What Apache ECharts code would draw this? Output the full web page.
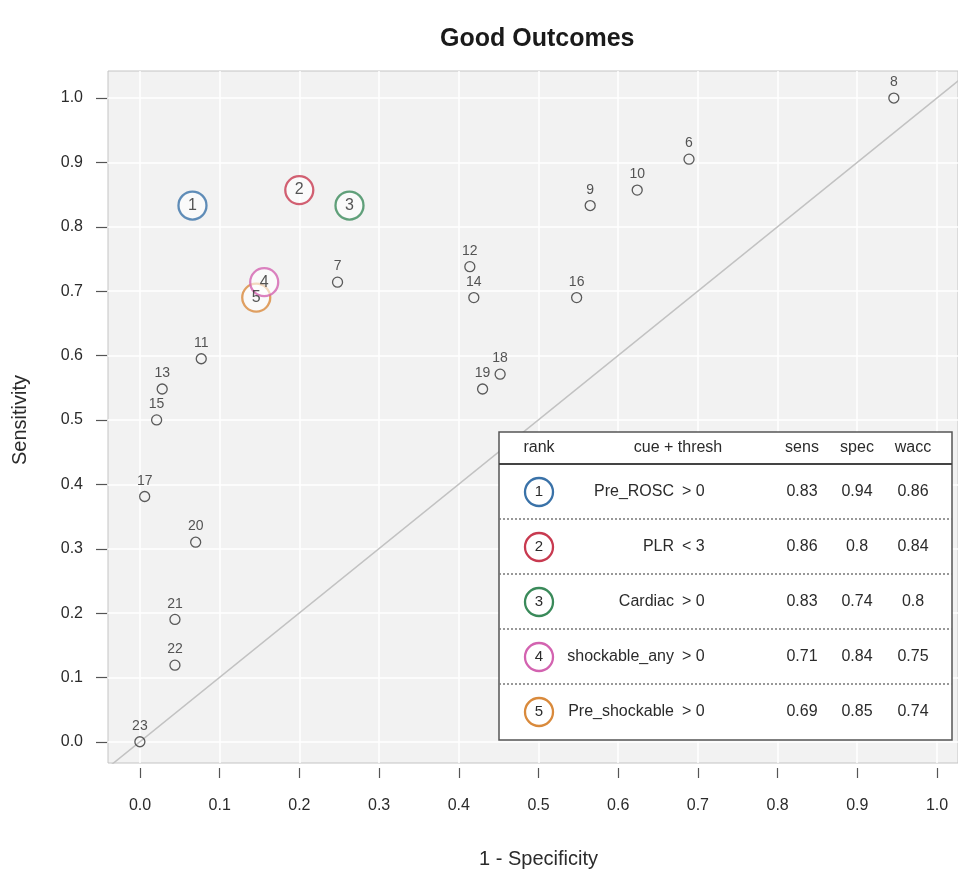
<!DOCTYPE html>
<html>
<head>
<meta charset="utf-8">
<script src="https://cdn.jsdelivr.net/npm/echarts@6/dist/echarts.min.js"></script>
<style>html,body{margin:0;padding:0;background:#fff;}#c{width:958px;height:869px;}</style>
</head>
<body>
<div id="c"></div>
<script>
// ---- data ----
var titleText = 'Good Outcomes';
var xName = '1 - Specificity';
var yName = 'Sensitivity';
var tickValues = [0, 0.1, 0.2, 0.3, 0.4, 0.5, 0.6, 0.7, 0.8, 0.9, 1.0];
var diagonal = [-0.1, 1.1];

var ptLabel = [6, 7, 8, 9, 10, 11, 12, 13, 14, 15, 16, 17, 18, 19, 20, 21, 22, 23];
var ptX = [0.689, 0.248, 0.946, 0.565, 0.624, 0.077, 0.414, 0.028, 0.419, 0.021, 0.548, 0.006, 0.452, 0.430, 0.070, 0.044, 0.044, 0.000];
var ptY = [0.905, 0.714, 1.000, 0.833, 0.857, 0.595, 0.738, 0.548, 0.690, 0.500, 0.690, 0.381, 0.571, 0.548, 0.310, 0.190, 0.119, 0.000];

var rank = [1, 2, 3, 4, 5];
var rankX = [0.066, 0.200, 0.263, 0.156, 0.146];
var rankY = [0.833, 0.857, 0.833, 0.714, 0.690];
var rankColor = ['#3a72a8', '#c83a50', '#3a8a5a', '#d363b0', '#d98a3c'];

var tableHeader = ['rank', 'cue + thresh', 'sens', 'spec', 'wacc'];
var cues = ['Pre_ROSC', 'PLR', 'Cardiac', 'shockable_any', 'Pre_shockable'];
var thresh = ['> 0', '< 3', '> 0', '> 0', '> 0'];
var sens = [0.83, 0.86, 0.83, 0.71, 0.69];
var spec = [0.94, 0.8, 0.74, 0.84, 0.85];
var wacc = [0.86, 0.84, 0.8, 0.75, 0.74];

// ---- layout ----
var FONT = 'Liberation Sans, Arial, Helvetica, sans-serif';
var TXT = '#2b2b2b';

var chart = echarts.init(document.getElementById('c'), null, {renderer: 'canvas'});

// table graphic built from arrays
var tb = {x: 499, y: 432, w: 453, h: 308, head: 32, row: 55};
var colX = {rank: 539, cue: 674, thr: 682, sens: 802, spec: 857, wacc: 913};
var g = [];
g.push({type: 'rect', shape: {x: tb.x, y: tb.y, width: tb.w, height: tb.h}, style: {fill: '#ffffff', stroke: '#555', lineWidth: 1.5}, z: 50});
g.push({type: 'line', shape: {x1: tb.x, y1: tb.y + tb.head, x2: tb.x + tb.w, y2: tb.y + tb.head}, style: {stroke: '#444', lineWidth: 2}, z: 51});
var hy = tb.y + 16;
var hx = [colX.rank, 678, colX.sens, colX.spec, colX.wacc];
tableHeader.forEach(function (h, i) {
  g.push({type: 'text', x: hx[i], y: hy, style: {text: h, fill: TXT, font: '16px ' + FONT, align: 'center', verticalAlign: 'middle'}, z: 52});
});
rank.forEach(function (r, i) {
  var cy = tb.y + tb.head + tb.row * i + 28;
  if (i > 0) {
    var ly = tb.y + tb.head + tb.row * i;
    g.push({type: 'line', shape: {x1: tb.x, y1: ly, x2: tb.x + tb.w, y2: ly}, style: {stroke: '#777', lineWidth: 1.5, lineDash: [2, 2]}, z: 51});
  }
  g.push({type: 'circle', shape: {cx: colX.rank, cy: cy, r: 14}, style: {fill: '#fff', stroke: rankColor[i], lineWidth: 2.3}, z: 52});
  g.push({type: 'text', x: colX.rank, y: cy, style: {text: String(r), fill: TXT, font: '15px ' + FONT, align: 'center', verticalAlign: 'middle'}, z: 53});
  g.push({type: 'text', x: colX.cue, y: cy, style: {text: cues[i], fill: TXT, font: '16px ' + FONT, align: 'right', verticalAlign: 'middle'}, z: 52});
  g.push({type: 'text', x: colX.thr, y: cy, style: {text: thresh[i], fill: TXT, font: '16px ' + FONT, align: 'left', verticalAlign: 'middle'}, z: 52});
  g.push({type: 'text', x: colX.sens, y: cy, style: {text: String(sens[i]), fill: TXT, font: '16px ' + FONT, align: 'center', verticalAlign: 'middle'}, z: 52});
  g.push({type: 'text', x: colX.spec, y: cy, style: {text: String(spec[i]), fill: TXT, font: '16px ' + FONT, align: 'center', verticalAlign: 'middle'}, z: 52});
  g.push({type: 'text', x: colX.wacc, y: cy, style: {text: String(wacc[i]), fill: TXT, font: '16px ' + FONT, align: 'center', verticalAlign: 'middle'}, z: 52});
});

var gridLines = tickValues.map(function (v) { return {xAxis: v}; })
  .concat(tickValues.map(function (v) { return {yAxis: v}; }));

function fmt(v) { return v.toFixed(1); }

var option = {
  backgroundColor: '#ffffff',
  animation: false,
  textStyle: {fontFamily: FONT},
  title: {
    text: titleText, left: 435, top: 22,
    textStyle: {fontFamily: FONT, fontWeight: 'bold', fontSize: 25, color: '#1a1a1a'}
  },
  grid: [
    {left: 108, top: 71, width: 850, height: 692, outerBoundsMode: 'none', show: true, backgroundColor: '#f2f2f2', borderColor: '#c4c4c4', borderWidth: 1},
    {left: 140, top: 98, width: 797, height: 670, outerBoundsMode: 'none', show: false},
    {left: 107, top: 98, width: 797, height: 644, outerBoundsMode: 'none', show: false}
  ],
  xAxis: [
    {gridIndex: 0, type: 'value', min: -0.04, max: 1.0265, show: false},
    {gridIndex: 1, type: 'value', min: 0, max: 1, interval: 0.1,
      axisLine: {show: false}, splitLine: {show: false},
      axisTick: {show: true, length: 10, lineStyle: {color: '#555', width: 1.2}},
      axisLabel: {margin: 30, fontSize: 16, color: TXT, fontFamily: FONT, formatter: fmt},
      name: xName, nameLocation: 'middle', nameGap: 81,
      nameTextStyle: {fontSize: 20, color: TXT, fontFamily: FONT}},
    {gridIndex: 2, type: 'value', min: 0, max: 1, show: false}
  ],
  yAxis: [
    {gridIndex: 0, type: 'value', min: -0.033, max: 1.042, show: false},
    {gridIndex: 1, type: 'value', min: 0, max: 1, show: false},
    {gridIndex: 2, type: 'value', min: 0, max: 1, interval: 0.1,
      axisLine: {show: false}, splitLine: {show: false},
      axisTick: {show: true, length: 11, lineStyle: {color: '#555', width: 1.2}},
      axisLabel: {margin: 24, fontSize: 16, color: TXT, fontFamily: FONT, formatter: fmt},
      name: yName, nameLocation: 'middle', nameGap: 77,
      nameTextStyle: {fontSize: 20, color: TXT, fontFamily: FONT}}
  ],
  series: [
    {
      type: 'line', xAxisIndex: 0, yAxisIndex: 0, data: [], z: 1, silent: true,
      markLine: {silent: true, z: 1, symbol: 'none', label: {show: false},
        lineStyle: {color: '#ffffff', width: 1.5, type: 'solid'}, data: gridLines}
    },
    {
      type: 'line', xAxisIndex: 0, yAxisIndex: 0, z: 2, silent: true,
      data: diagonal.map(function (v) { return [v, v]; }),
      symbol: 'none', lineStyle: {color: '#c2c2c2', width: 1.5}
    },
    {
      type: 'scatter', xAxisIndex: 0, yAxisIndex: 0, z: 3,
      data: ptLabel.map(function (l, i) { return {value: [ptX[i], ptY[i]], name: String(l)}; }),
      symbol: 'circle', symbolSize: 10,
      itemStyle: {color: 'rgba(0,0,0,0)', borderColor: '#333', borderWidth: 1.3},
      label: {show: true, position: 'top', distance: 3, formatter: '{b}', fontSize: 14, color: TXT, fontFamily: FONT}
    },
    {
      type: 'scatter', xAxisIndex: 0, yAxisIndex: 0, z: 4,
      data: rank.map(function (r, i) {
        return {value: [rankX[i], rankY[i]], name: String(r),
          itemStyle: {borderColor: rankColor[i]}};
      }).reverse(),
      symbol: 'circle', symbolSize: 28,
      itemStyle: {color: 'rgba(255,255,255,0.75)', borderWidth: 2.3},
      label: {show: true, position: 'inside', formatter: '{b}', fontSize: 16, color: TXT, fontFamily: FONT}
    }
  ],
  graphic: g
};
chart.setOption(option);
</script>
</body>
</html>
